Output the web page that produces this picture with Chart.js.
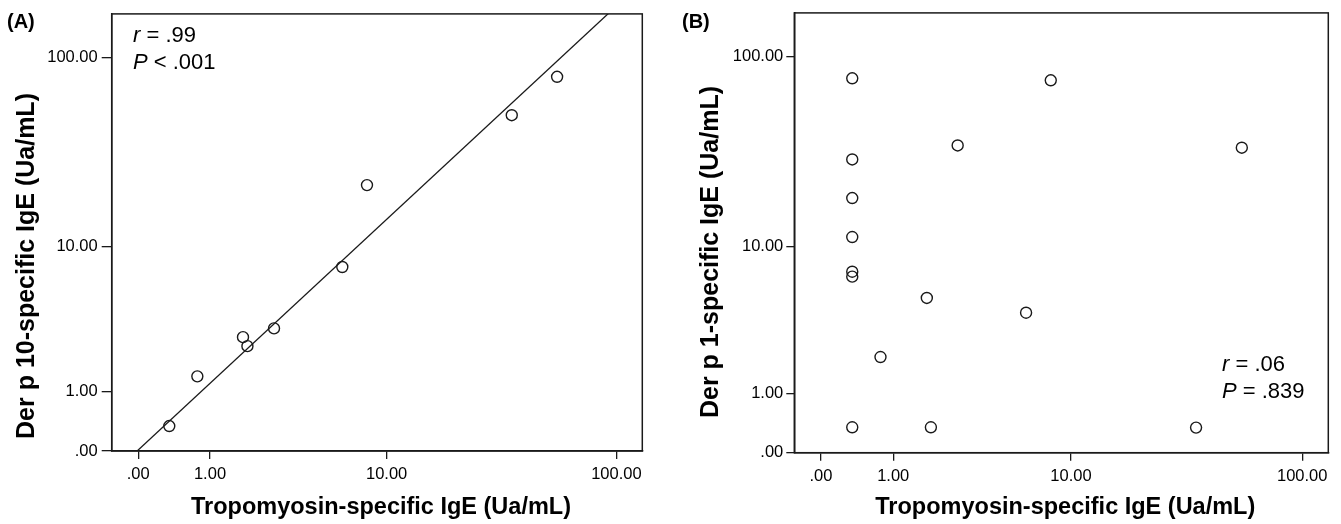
<!DOCTYPE html>
<html lang="en">
<head>
    <meta charset="UTF-8">
    <title>Tropomyosin vs Der p IgE</title>
    <script src="https://cdn.jsdelivr.net/npm/chart.js"></script>
    <style>
        body { margin: 0; background: #fff; }
        .panel { position: absolute; top: 0; }
        #wrapA { left: 0; }
        #wrapB { left: 670px; }
    </style>
</head>
<body>
    <div class="panel" id="wrapA"><canvas id="chartA" width="670" height="524"></canvas></div>
    <div class="panel" id="wrapB"><canvas id="chartB" width="671" height="524"></canvas></div>

    <script>
        // tick values (Ua/mL) and their labels, same on both axes
        const tickValues = [0, 1, 10, 100];
        const tickLabels = ['.00', '1.00', '10.00', '100.00'];

        // panel A: Tropomyosin vs Der p 10
        const tropoA = [0.35, 0.77, 1.75, 1.87, 2.71, 6.17, 8.1, 35.8, 56.0];
        const derp10 = [0.34, 1.40, 2.80, 2.42, 3.21, 7.65, 21.6, 50.3, 79.5];
        // fit line on the log10(x+1) scale
        const fitSlopeA = 1.128;
        const fitInterceptA = 0.005;

        // panel B: Tropomyosin vs Der p 1
        const tropoB = [0.35, 0.35, 0.35, 0.35, 0.35, 0.35, 0.35, 8.06, 2.71, 55.6, 1.76, 6.15, 0.77, 1.87, 35.5];
        const derp1 = [77.5, 29.5, 18.45, 11.35, 7.24, 6.78, 0.345, 75.7, 34.9, 33.97, 5.07, 4.11, 2.05, 0.345, 0.34];

        const FONT = '"Liberation Sans", Arial, Helvetica, sans-serif';
        const INK = '#1a1a1a';

        // SPSS style log axis: log10(v + 1)
        const T = v => Math.log10(v + 1);
        const X_MIN = -0.111, X_MAX = 2.113;
        const Y_MIN = 0, Y_MAX = 2.226;

        function toPoints(xs, ys) {
            return xs.map((x, i) => ({ x: T(x), y: T(ys[i]) }));
        }

        function drawText(ctx, parts, x, y) {
            // parts: [[text, fontString], ...] drawn left to right
            let cx = x;
            parts.forEach(([txt, f]) => {
                ctx.font = f;
                ctx.fillText(txt, cx, y);
                cx += ctx.measureText(txt).width;
            });
        }

        // frame + texts that sit outside the scales
        function decorPlugin(cfg) {
            return {
                id: 'decor',
                afterDraw(chart) {
                    const { ctx, chartArea: a } = chart;
                    ctx.save();
                    ctx.strokeStyle = INK;
                    ctx.lineWidth = 1.5;
                    ctx.strokeRect(a.left, a.top, a.right - a.left, a.bottom - a.top);

                    ctx.fillStyle = '#000';
                    ctx.textBaseline = 'middle';
                    ctx.textAlign = 'left';
                    ctx.font = 'bold 20px ' + FONT;
                    ctx.fillText(cfg.letter, cfg.letterX, 22);

                    // stats
                    drawText(ctx, [[cfg.r[0], 'italic 22px ' + FONT], [cfg.r[1], '22px ' + FONT]], cfg.statX, cfg.statY);
                    drawText(ctx, [[cfg.p[0], 'italic 22px ' + FONT], [cfg.p[1], '22px ' + FONT]], cfg.statX, cfg.statY + 27);

                    // axis titles
                    ctx.textAlign = 'center';
                    ctx.font = 'bold 23.5px ' + FONT;
                    ctx.fillText(cfg.xTitle, (a.left + a.right) / 2 + 4, 508);

                    ctx.translate(cfg.yTitleX, cfg.yTitleY);
                    ctx.rotate(-Math.PI / 2);
                    ctx.font = 'bold 25px ' + FONT;
                    ctx.fillText(cfg.yTitle, 0, 0);
                    ctx.restore();
                }
            };
        }

        function axis(min, max, fitSize, isY, tickLen, pad) {
            return {
                type: 'linear',
                min: min,
                max: max,
                afterBuildTicks: s => { s.ticks = tickValues.map(v => ({ value: T(v) })); },
                afterFit: s => { if (isY) s.width = fitSize; else s.height = fitSize; },
                grid: { display: true, drawOnChartArea: false, drawTicks: true, tickLength: tickLen, color: INK, lineWidth: 1.3 },
                border: { display: true, color: INK, width: 1.5 },
                ticks: {
                    padding: pad,
                    color: '#000',
                    font: { family: FONT, size: 16.5 },
                    maxRotation: 0,
                    autoSkip: false,
                    callback: (v, i) => tickLabels[i]
                }
            };
        }

        function makeChart(id, datasets, lay, decor) {
            return new Chart(document.getElementById(id), {
                type: 'scatter',
                data: { datasets: datasets },
                options: {
                    responsive: false,
                    animation: false,
                    layout: { padding: { left: 0, top: lay.top, right: lay.right, bottom: 0 } },
                    plugins: { legend: { display: false }, tooltip: { enabled: false } },
                    scales: {
                        x: axis(X_MIN, X_MAX, lay.xH, false, 8, 6),
                        y: axis(Y_MIN, Y_MAX, lay.yW, true, lay.yTick, lay.yPad)
                    }
                },
                plugins: [decorPlugin(decor)]
            });
        }

        const pointStyle = {
            pointStyle: 'circle',
            pointRadius: 5.5,
            pointBorderWidth: 1.4,
            pointBorderColor: INK,
            pointBackgroundColor: 'rgba(0,0,0,0)'
        };

        // fit line from the regression coefficients
        const fitLineA = [X_MIN, X_MAX].map(t => ({ x: t, y: fitSlopeA * t + fitInterceptA }));

        makeChart('chartA', [
            Object.assign({ data: toPoints(tropoA, derp10) }, pointStyle),
            { type: 'line', data: fitLineA, borderColor: INK, borderWidth: 1.3, pointRadius: 0, fill: false }
        ], { top: 12.3, right: 27.7, xH: 73, yW: 111.7, yTick: 10, yPad: 4 }, {
            letter: '(A)', letterX: 7,
            r: ['r', ' = .99'], p: ['P', ' < .001'], statX: 133, statY: 36,
            xTitle: 'Tropomyosin-specific IgE (Ua/mL)',
            yTitle: 'Der p 10-specific IgE (Ua/mL)', yTitleX: 27, yTitleY: 266
        });

        makeChart('chartB', [
            Object.assign({ data: toPoints(tropoB, derp1) }, pointStyle)
        ], { top: 12.7, right: 12.7, xH: 71.3, yW: 124.3, yTick: 8, yPad: 3 }, {
            letter: '(B)', letterX: 12,
            r: ['r', ' = .06'], p: ['P', ' = .839'], statX: 552, statY: 365,
            xTitle: 'Tropomyosin-specific IgE (Ua/mL)',
            yTitle: 'Der p 1-specific IgE (Ua/mL)', yTitleX: 41, yTitleY: 252
        });
    </script>
</body>
</html>
